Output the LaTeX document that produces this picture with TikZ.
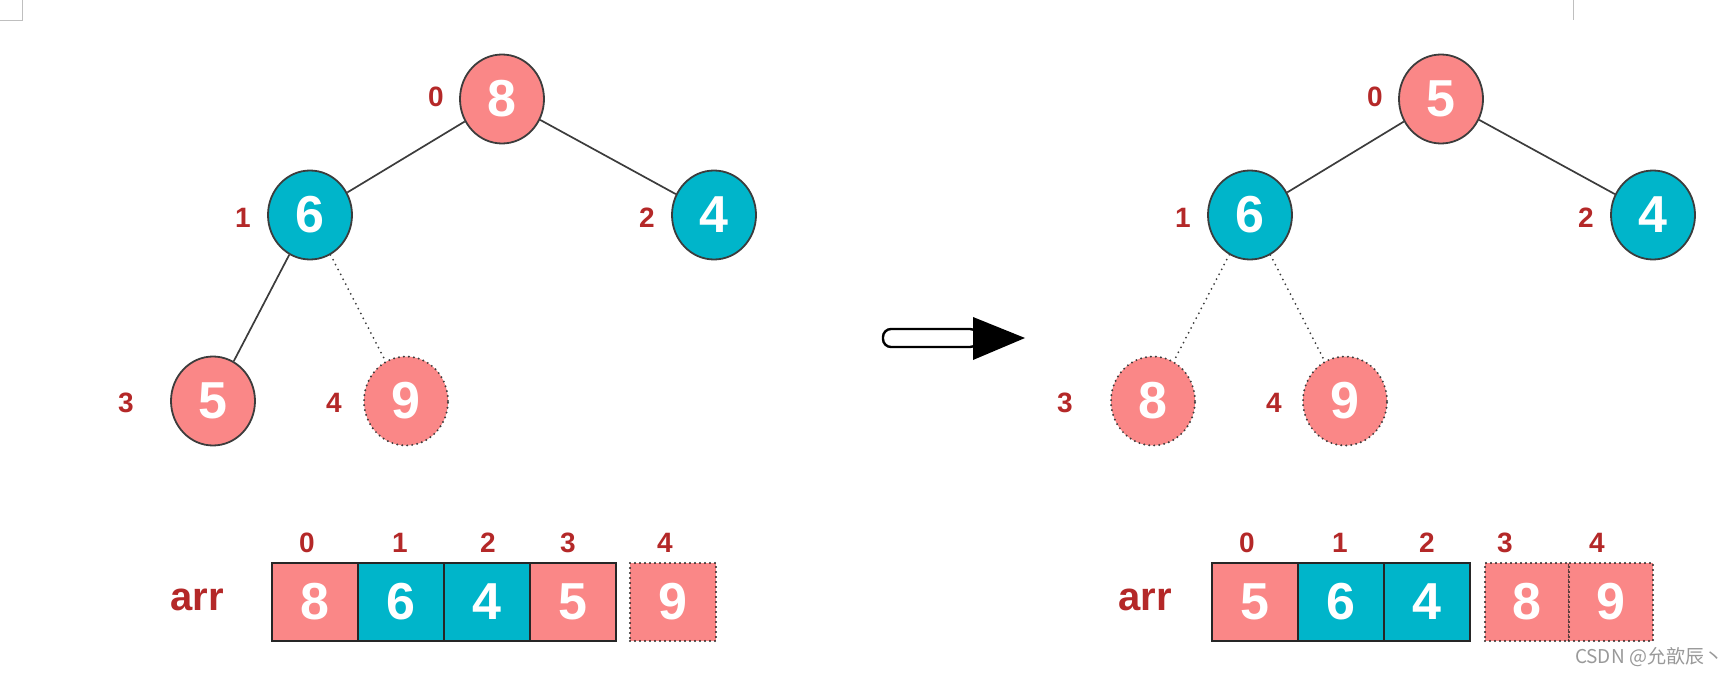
\documentclass[tikz,border=0pt]{standalone}
\usepackage{fontspec}
\usetikzlibrary{shapes.geometric}
\setmainfont{Liberation Sans}
\newfontfamily\cjkfont{Noto Sans CJK SC}
\definecolor{pinkc}{RGB}{250,135,135}
\definecolor{tealc}{RGB}{0,181,202}
\definecolor{labc}{RGB}{180,40,40}
\definecolor{linec}{RGB}{60,60,60}
\begin{document}
\begin{tikzpicture}[x=1pt,y=-1pt,
  heapnode/.style={ellipse, draw=linec, line width=1.8pt, minimum width=84pt, minimum height=89pt, inner sep=0pt, text=white, font=\fontsize{52}{52}\selectfont\bfseries},
  pinknode/.style={heapnode, fill=pinkc},
  tealnode/.style={heapnode, fill=tealc},
  ghostnode/.style={heapnode, fill=pinkc, line width=2.2pt, line cap=round, dash pattern=on 0pt off 5pt},
  idx/.style={text=labc, inner sep=0pt, font=\fontsize{28}{28}\selectfont\bfseries},
  edge/.style={draw=linec, line width=1.7pt},
  ghostedge/.style={draw=linec, line width=2pt, line cap=round, dash pattern=on 0pt off 5.5pt},
  cell/.style={draw=black!85, line width=2pt, minimum width=86pt, minimum height=78pt, inner sep=0pt, text=white, font=\fontsize{52}{52}\selectfont\bfseries},
  pinkcell/.style={cell, fill=pinkc},
  tealcell/.style={cell, fill=tealc},
  ghostcell/.style={cell, fill=pinkc, line width=2.2pt, line cap=round, dash pattern=on 0pt off 5pt},
  arrlabel/.style={text=labc, inner sep=0pt, font=\fontsize{40}{40}\selectfont\bfseries},
  artifact/.style={draw=black!25, line width=1pt}
]
\useasboundingbox (0,0) rectangle (1727,676);

% page artifacts
\draw[artifact] (0,21) -- (22,21) -- (22,0);
\draw[artifact] (1573,0) -- (1573,20);

% ---------- left tree ----------
\node[pinknode] (L0) at (502,99) {8};
\node[tealnode] (L1) at (310,215) {6};
\node[tealnode] (L2) at (714,215) {4};
\node[pinknode] (L3) at (213,401) {5};
\node[ghostnode] (L4) at (406,401) {9};
\draw[edge] (L0) -- (L1);
\draw[edge] (L0) -- (L2);
\draw[edge] (L1) -- (L3);
\draw[ghostedge] (L1) -- (L4);
\node[idx] (Li0) at (436,97) {0};
\node[idx] (Li1) at (243,218) {1};
\node[idx] (Li2) at (647,218) {2};
\node[idx] (Li3) at (126,403) {3};
\node[idx] (Li4) at (334,403) {4};

% ---------- arrow ----------
\draw[line width=2.4pt, fill=white, rounded corners=8pt] (883,329) rectangle (978,347);
\fill[black] (973,317) -- (1025,338) -- (973,360) -- cycle;

% ---------- right tree ----------
\node[pinknode] (R0) at (1441,99) {5};
\node[tealnode] (R1) at (1250,215) {6};
\node[tealnode] (R2) at (1653,215) {4};
\node[ghostnode] (R3) at (1153,401) {8};
\node[ghostnode] (R4) at (1345,401) {9};
\draw[edge] (R0) -- (R1);
\draw[edge] (R0) -- (R2);
\draw[ghostedge] (R1) -- (R3);
\draw[ghostedge] (R1) -- (R4);
\node[idx] (Ri0) at (1375,97) {0};
\node[idx] (Ri1) at (1183,218) {1};
\node[idx] (Ri2) at (1586,218) {2};
\node[idx] (Ri3) at (1065,403) {3};
\node[idx] (Ri4) at (1274,403) {4};

% ---------- left array ----------
\node[arrlabel] (La) at (197,600) {arr};
\node[pinkcell] (La0) at (315,602) {8};
\node[tealcell] (La1) at (401,602) {6};
\node[tealcell] (La2) at (487,602) {4};
\node[pinkcell] (La3) at (573,602) {5};
\node[ghostcell] (La4) at (673,602) {9};
\node[idx] (Lai0) at (307,543) {0};
\node[idx] (Lai1) at (400,543) {1};
\node[idx] (Lai2) at (488,543) {2};
\node[idx] (Lai3) at (568,543) {3};
\node[idx] (Lai4) at (665,543) {4};

% ---------- right array ----------
\node[arrlabel] (Ra) at (1145,600) {arr};
\node[pinkcell] (Ra0) at (1255,602) {5};
\node[tealcell] (Ra1) at (1341,602) {6};
\node[tealcell] (Ra2) at (1427,602) {4};
\node[ghostcell, minimum width=84pt] (Ra3) at (1527,602) {8};
\node[ghostcell, minimum width=84pt] (Ra4) at (1611,602) {9};
\node[idx] (Rai0) at (1247,543) {0};
\node[idx] (Rai1) at (1340,543) {1};
\node[idx] (Rai2) at (1427,543) {2};
\node[idx] (Rai3) at (1505,543) {3};
\node[idx] (Rai4) at (1597,543) {4};

% watermark
\node[text=black!40, inner sep=0pt, font=\cjkfont\fontsize{19}{19}\selectfont] (wm) at (1649,657) {CSDN @允歆辰丶};
\end{tikzpicture}
\end{document}
